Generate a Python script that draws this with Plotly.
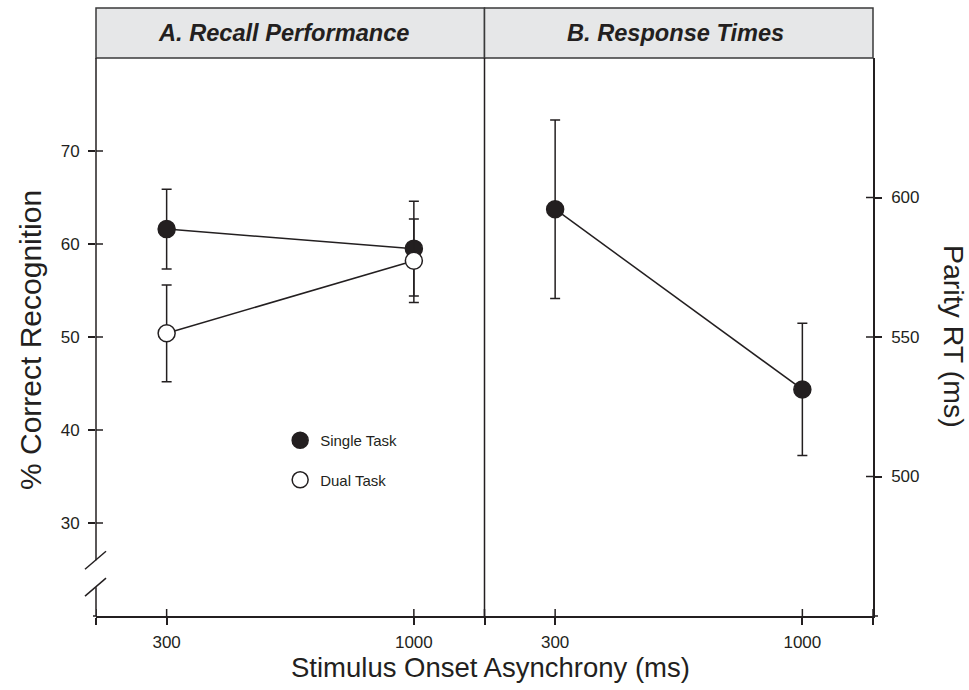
import plotly.graph_objects as go

# Stimulus onset asynchrony conditions (ms)
soa = [300, 1000]
soa_labels = ["300", "1000"]

# Panel A: recognition accuracy (%) with error bars
single_recall = [61.6, 59.5]
single_recall_err = [4.3, 5.1]
dual_recall = [50.4, 58.2]
dual_recall_err = [5.2, 4.5]

# Panel B: parity response times (ms) with error bars
parity_rt = [595.8, 531.2]
parity_rt_err = [32.0, 23.7]

recall_ticks = [30, 40, 50, 60, 70]
rt_ticks = [500, 550, 600]

INK = "#231f20"
FONT = "Liberation Sans, Arial, Helvetica, sans-serif"

fig = go.Figure()

err_style = dict(type="data", thickness=1.5, width=5, color=INK)

fig.add_trace(go.Scatter(
    x=soa, y=single_recall, mode="lines+markers", name="Single Task",
    line=dict(color=INK, width=1.5),
    marker=dict(size=17, color=INK, line=dict(color=INK, width=1.5)),
    error_y=dict(array=single_recall_err, **err_style),
    xaxis="x", yaxis="y", showlegend=False, cliponaxis=False,
))
fig.add_trace(go.Scatter(
    x=soa, y=dual_recall, mode="lines+markers", name="Dual Task",
    line=dict(color=INK, width=1.5),
    marker=dict(size=17, color="white", line=dict(color=INK, width=1.5)),
    error_y=dict(array=dual_recall_err, **err_style),
    xaxis="x", yaxis="y", showlegend=False, cliponaxis=False,
))
fig.add_trace(go.Scatter(
    x=soa, y=parity_rt, mode="lines+markers", name="Parity RT",
    line=dict(color=INK, width=1.5),
    marker=dict(size=17, color=INK, line=dict(color=INK, width=1.5)),
    error_y=dict(array=parity_rt_err, **err_style),
    xaxis="x2", yaxis="y2", showlegend=False, cliponaxis=False,
))

# Legend entries (markers only)
fig.add_trace(go.Scatter(
    x=[None], y=[None], mode="markers", name="Single Task",
    marker=dict(size=16, color=INK, line=dict(color=INK, width=1.5)),
    xaxis="x", yaxis="y", legendgroup="a",
))
fig.add_trace(go.Scatter(
    x=[None], y=[None], mode="markers", name="Dual Task",
    marker=dict(size=16, color="white", line=dict(color=INK, width=1.5)),
    xaxis="x", yaxis="y", legendgroup="b",
))

x_range = [100, 1200]
x_tickvals = [100] + soa + [1200]
x_ticktext = [""] + soa_labels + [""]
recall_range = [20, 80]
rt_range = [450, 650]
TICK_LEN = 7

tick_font = dict(family=FONT, size=17, color=INK)
tick_style = dict(ticks="outside", ticklen=TICK_LEN, tickwidth=1.5, tickcolor=INK)

xa_common = dict(range=x_range, tickmode="array", tickvals=x_tickvals,
                 ticktext=x_ticktext, showgrid=False, zeroline=False,
                 fixedrange=True, showline=True, linecolor=INK, linewidth=1.5,
                 tickfont=tick_font, ticklabelstandoff=3, **tick_style)
ya_common = dict(showgrid=False, zeroline=False, fixedrange=True,
                 tickmode="array", tickfont=tick_font, **tick_style)

fig.update_layout(
    width=969, height=690,
    margin=dict(l=96, r=96, t=58, b=74),
    paper_bgcolor="white", plot_bgcolor="white",
    font=dict(family=FONT, color=INK),
    xaxis=dict(domain=[0, 0.5], anchor="y", **xa_common),
    xaxis2=dict(domain=[0.5, 1], anchor="y2", **xa_common),
    yaxis=dict(domain=[0, 1], anchor="x", range=recall_range,
               tickvals=recall_ticks, showline=False, ticklabelstandoff=5,
               **ya_common),
    yaxis2=dict(domain=[0, 1], anchor="x2", side="right", range=rt_range,
                tickvals=rt_ticks, showline=True, linecolor=INK, linewidth=1.5,
                ticklabelstandoff=6, **ya_common),
    legend=dict(x=0.237, y=0.344, xanchor="left", yanchor="top",
                bgcolor="rgba(0,0,0,0)", font=dict(family=FONT, size=15, color=INK),
                traceorder="grouped", tracegroupgap=17, itemwidth=30),
)

tick_line = dict(color=INK, width=1.5)
shapes = []

# Header strip with panel titles
header_h = 50 / 558
for x0, x1 in [(0, 0.5), (0.5, 1)]:
    shapes.append(dict(type="rect", xref="paper", yref="paper",
                       x0=x0, x1=x1, y0=1, y1=1 + header_h,
                       fillcolor="#e6e7e8", line=dict(color="#3a3a3a", width=1.5),
                       layer="below"))
# divider between panels
shapes.append(dict(type="line", xref="paper", yref="paper", x0=0.5, x1=0.5,
                   y0=0, y1=1, line=tick_line))
# short overhang of the baseline past both ends
shapes.append(dict(type="line", xref="paper", yref="paper", xsizemode="pixel",
                   xanchor=0, x0=-3, x1=0, y0=0, y1=0, line=tick_line))
shapes.append(dict(type="line", xref="paper", yref="paper", xsizemode="pixel",
                   xanchor=1, x0=0, x1=5, y0=0, y1=0, line=tick_line))

# inner halves of the crossing ticks
for xr in ("x", "x2"):
    for v in x_tickvals:
        shapes.append(dict(type="line", xref=xr, yref="paper", x0=v, x1=v,
                           ysizemode="pixel", yanchor=0, y0=0, y1=TICK_LEN,
                           line=tick_line))
for v in recall_ticks:
    shapes.append(dict(type="line", xref="paper", yref="y", y0=v, y1=v,
                       xsizemode="pixel", xanchor=0, x0=0, x1=TICK_LEN,
                       line=tick_line))
for v in rt_ticks:
    shapes.append(dict(type="line", xref="paper", yref="y2", y0=v, y1=v,
                       xsizemode="pixel", xanchor=1, x0=-TICK_LEN, x1=0,
                       line=tick_line))

# broken left axis line
break_lo, break_hi = 23.1, 26.0
shapes.append(dict(type="line", xref="paper", yref="y", x0=0, x1=0,
                   y0=recall_range[0], y1=break_lo, line=tick_line))
shapes.append(dict(type="line", xref="paper", yref="y", x0=0, x1=0,
                   y0=break_hi, y1=recall_range[1], line=tick_line))
# break marks
for yb in (break_lo, break_hi):
    shapes.append(dict(type="line", xref="paper", yref="y",
                       xsizemode="pixel", xanchor=0, x0=-11, x1=10,
                       ysizemode="pixel", yanchor=yb, y0=-9, y1=9,
                       line=tick_line))
fig.update_layout(shapes=shapes)

title_font = dict(family=FONT, size=23.6, color=INK)
annotations = [
    dict(text="<b><i>A. Recall Performance</i></b>", xref="paper", yref="paper",
         x=0.25 - 7 / 777, y=1 + header_h / 2, showarrow=False, font=title_font,
         xanchor="center", yanchor="middle"),
    dict(text="<b><i>B. Response Times</i></b>", xref="paper", yref="paper",
         x=0.75 - 3.5 / 777, y=1 + header_h / 2, showarrow=False, font=title_font,
         xanchor="center", yanchor="middle"),
    dict(text="Stimulus Onset Asynchrony (ms)", xref="paper", yref="paper",
         x=0.5 + 6 / 777, y=-51 / 558, showarrow=False, xanchor="center",
         yanchor="middle", font=dict(family=FONT, size=27.5, color=INK)),
    dict(text="% Correct Recognition", xref="paper", yref="paper",
         x=-66 / 777, y=(616 - 340) / 558, showarrow=False, textangle=-90,
         xanchor="center", yanchor="middle",
         font=dict(family=FONT, size=30, color=INK)),
    dict(text="Parity RT (ms)", xref="paper", yref="paper",
         x=1 + 81 / 777, y=(616 - 336) / 558, showarrow=False, textangle=90,
         xanchor="center", yanchor="middle",
         font=dict(family=FONT, size=28.5, color=INK)),
]
fig.update_layout(annotations=annotations)

fig.write_html("out.html")
